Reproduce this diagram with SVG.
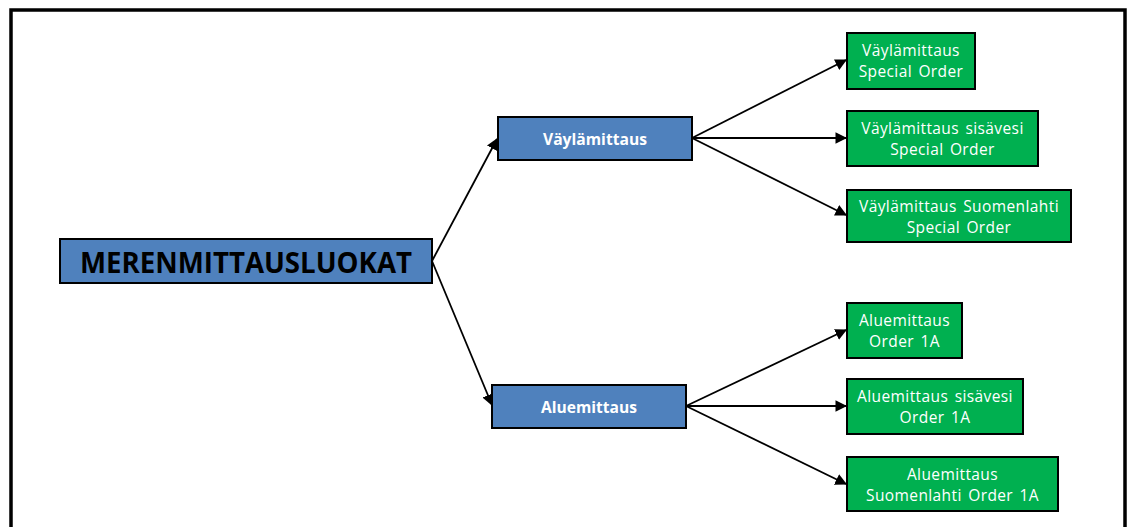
<svg xmlns="http://www.w3.org/2000/svg" width="1128" height="527" viewBox="0 0 1128 527">
<defs>
<style>
.blue{fill:#4F81BD;stroke:#000;stroke-width:2}
.green{fill:#00B050;stroke:#000;stroke-width:2}
.gt{font-family:"Open Sans","Noto Sans",sans-serif;font-size:15.5px;fill:#fff;text-anchor:middle;letter-spacing:0.4px;word-spacing:2px}
.bt{font-family:"Open Sans","Noto Sans",sans-serif;font-size:15.5px;font-weight:bold;fill:#fff;text-anchor:middle}
.mt{font-family:"Open Sans","Noto Sans",sans-serif;font-size:29px;font-weight:bold;fill:#000;text-anchor:middle}
.conn line{stroke:#000;stroke-width:1.8;marker-end:url(#ah)}
</style>
<marker id="ah" viewBox="0 0 10 10" refX="9" refY="5" markerWidth="6.5" markerHeight="6.5" orient="auto" markerUnits="strokeWidth">
<path d="M0,0 L10,5 L0,10 Z" fill="#000"/>
</marker>
</defs>
<rect x="0" y="0" width="1128" height="527" fill="#fff"/>
<rect x="11" y="10" width="1114" height="540" fill="none" stroke="#000" stroke-width="3.5"/>
<g class="conn" id="connectors">
<line x1="432" y1="261" x2="497" y2="139"/>
<line x1="432" y1="261" x2="492" y2="405"/>
<line x1="692" y1="138" x2="846" y2="60"/>
<line x1="692" y1="138" x2="846" y2="138"/>
<line x1="692" y1="138" x2="846" y2="215"/>
<line x1="686" y1="406" x2="846" y2="330"/>
<line x1="686" y1="406" x2="846" y2="406"/>
<line x1="686" y1="406" x2="846" y2="484"/>
</g>
<g id="root">
<rect class="blue" x="60" y="239" width="372" height="44"/>
<text class="mt" x="246" y="273" textLength="332" lengthAdjust="spacingAndGlyphs">MERENMITTAUSLUOKAT</text>
</g>
<g id="vaylamittaus">
<rect class="blue" x="498" y="117" width="194" height="43"/>
<text class="bt" x="595" y="145" textLength="104" lengthAdjust="spacingAndGlyphs">Väylämittaus</text>
</g>
<g id="aluemittaus">
<rect class="blue" x="492" y="385" width="194" height="43"/>
<text class="bt" x="589" y="413" textLength="96" lengthAdjust="spacingAndGlyphs">Aluemittaus</text>
</g>
<g id="v1">
<rect class="green" x="847" y="33" width="128" height="56"/>
<text class="gt" x="911" y="56">Väylämittaus</text>
<text class="gt" x="911" y="77">Special Order</text>
</g>
<g id="v2">
<rect class="green" x="847" y="111" width="191" height="55"/>
<text class="gt" x="942.5" y="134">Väylämittaus sisävesi</text>
<text class="gt" x="942.5" y="155">Special Order</text>
</g>
<g id="v3">
<rect class="green" x="847" y="190" width="224" height="52"/>
<text class="gt" x="959" y="212">Väylämittaus Suomenlahti</text>
<text class="gt" x="959" y="233">Special Order</text>
</g>
<g id="a1">
<rect class="green" x="847" y="303" width="115" height="55"/>
<text class="gt" x="904.5" y="326">Aluemittaus</text>
<text class="gt" x="904.5" y="347">Order 1A</text>
</g>
<g id="a2">
<rect class="green" x="847" y="379" width="176" height="55"/>
<text class="gt" x="935" y="402">Aluemittaus sisävesi</text>
<text class="gt" x="935" y="423">Order 1A</text>
</g>
<g id="a3">
<rect class="green" x="847" y="457" width="211" height="54"/>
<text class="gt" x="952.5" y="480">Aluemittaus</text>
<text class="gt" x="952.5" y="501">Suomenlahti Order 1A</text>
</g>
</svg>
